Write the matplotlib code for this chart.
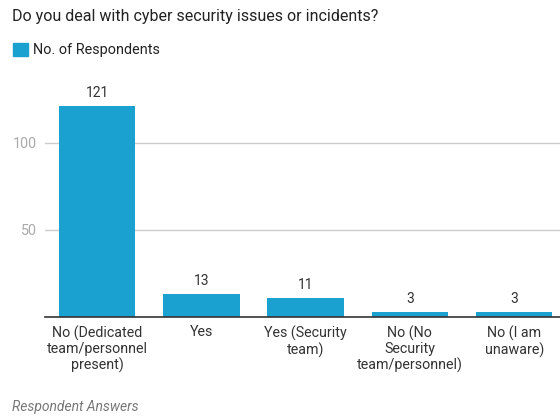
import matplotlib
matplotlib.use("Agg")
import matplotlib.pyplot as plt
from matplotlib.patches import Patch

categories = ["No (Dedicated\nteam/personnel\npresent)", "Yes", "Yes (Security\nteam)",
              "No (No\nSecurity\nteam/personnel)", "No (I am\nunaware)"]
values = [121, 13, 11, 3, 3]
yticks = [50, 100]

plt.rcParams['font.family'] = ['Roboto', 'DejaVu Sans']
blue = "#1ba1cf"

fig = plt.figure(figsize=(5.6, 4.17), dpi=100)
ax = fig.add_axes([45/560, 100/417, 515/560, 244/417])
x = list(range(len(values)))
ax.bar(x, values, width=0.735, color=blue, zorder=3)
for xi, v in zip(x, values):
    ax.text(xi, v + 3.5, str(v), ha='center', va='bottom', fontsize=10, color='#333333')
ax.set_xlim(-0.5, 4.44)
ax.set_ylim(0, 140)
ax.set_yticks(yticks)
ax.set_yticklabels([str(t) for t in yticks], color='#aaaaaa', fontsize=10.3)
ax.yaxis.grid(True, color='#cccccc', linewidth=1, zorder=0)
ax.tick_params(axis='y', length=0, pad=6)
ax.set_xticks(x)
ax.set_xticklabels(categories, fontsize=10.3, color='#333333', linespacing=1.15)
ax.tick_params(axis='x', length=0, pad=6)
for s in ['top', 'right', 'left']:
    ax.spines[s].set_visible(False)
ax.spines['bottom'].set_color('#333333')
ax.spines['bottom'].set_linewidth(1.2)
ax.spines['bottom'].set_zorder(4)

fig.text(12/560, 1 - 16/417, "Do you deal with cyber security issues or incidents?",
         fontsize=11.5, color='#222222', va='center', ha='left')
fig.legend(handles=[Patch(color=blue)], labels=["No. of Respondents"], loc='center left',
           bbox_to_anchor=(0/560, 1 - 50/417), frameon=False, fontsize=10.4,
           handlelength=1.05, handleheight=1.05, handletextpad=0.35, labelcolor='#222222')
fig.text(12/560, 1 - 407/417, "Respondent Answers", fontsize=10, style='italic',
         color='#777777', va='center', ha='left')
fig.savefig("out.png", dpi=100)
